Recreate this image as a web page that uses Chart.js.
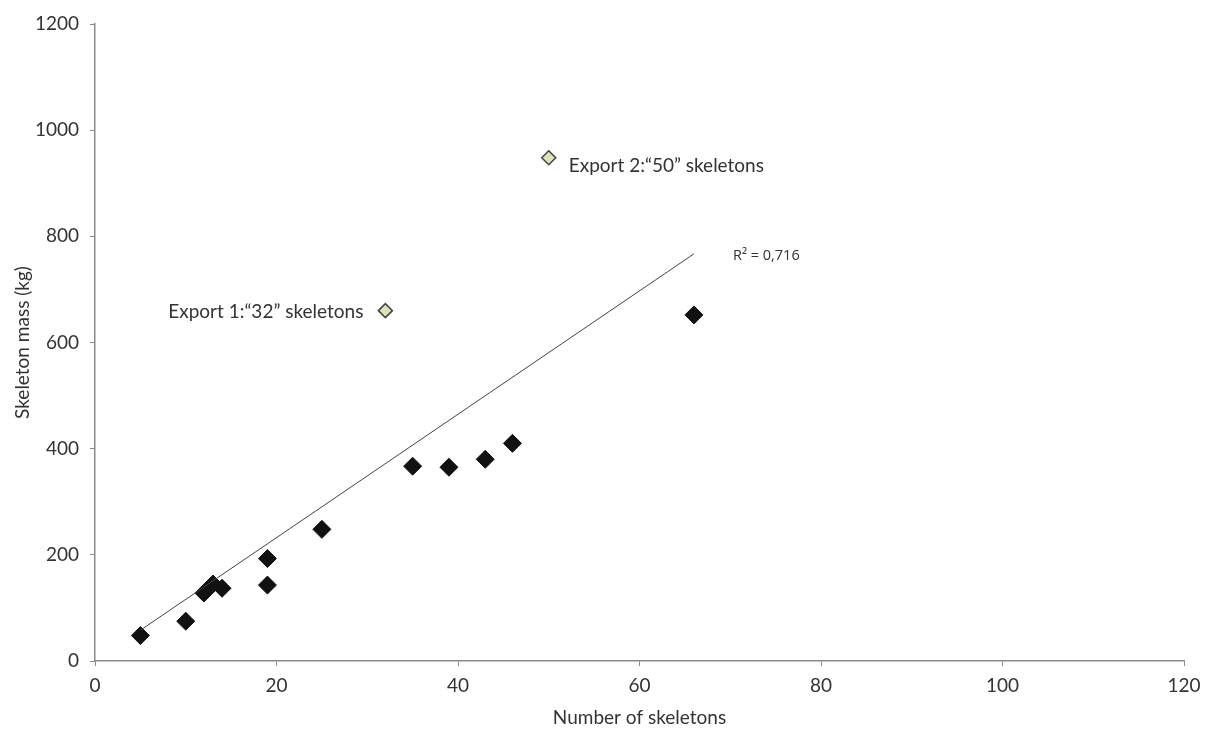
<!DOCTYPE html>
<html lang="en">

<head>
    <meta charset="UTF-8">
    <title>Skeleton mass vs number of skeletons</title>
    <script src="https://cdn.jsdelivr.net/npm/chart.js"></script>
    <style>
        body {
            margin: 0;
            background: #fff;
        }

        #wrap {
            width: 1210px;
            height: 729px;
        }
    </style>
</head>

<body>
    <div id="wrap"><canvas id="massChart"></canvas></div>

    <script>
        // data
        const skeletonCounts = [5, 10, 12, 13, 14, 19, 19, 25, 35, 39, 43, 46, 66];
        const skeletonMass = [48, 75, 128, 145, 137, 193, 143, 248, 367, 365, 380, 410, 652];
        const exportCounts = [32, 50];
        const exportMass = [660, 948];
        const exportLabels = ['Export 1:\u201c32\u201d skeletons', 'Export 2:\u201c50\u201d skeletons'];
        const trendX = [5, 66];
        const trendY = [58, 767];
        const trendLabel = 'R\u00b2 = 0,716';
        const xTicks = [0, 20, 40, 60, 80, 100, 120];
        const yTicks = [0, 200, 400, 600, 800, 1000, 1200];

        const fontFam = 'Lato, "Open Sans", sans-serif';
        const textCol = '#333';
        const axisCol = '#8a8a8a';

        // labels next to the export points and the R² text
        const notesPlugin = {
            id: 'notes',
            afterDatasetsDraw(chart) {
                const { ctx, scales: { x, y } } = chart;
                ctx.save();
                ctx.fillStyle = textCol;
                ctx.textBaseline = 'middle';
                ctx.font = '19px ' + fontFam;
                // export 1 sits left of its point
                ctx.textAlign = 'right';
                ctx.fillText(exportLabels[0], x.getPixelForValue(exportCounts[0]) - 22, y.getPixelForValue(exportMass[0]) + 1);
                // export 2 sits right of its point
                ctx.textAlign = 'left';
                ctx.fillText(exportLabels[1], x.getPixelForValue(exportCounts[1]) + 20, y.getPixelForValue(exportMass[1]) + 8);
                // R² label
                ctx.font = '14.5px "Open Sans", sans-serif';
                ctx.fillText(trendLabel, x.getPixelForValue(trendX[1]) + 39, y.getPixelForValue(trendY[1]) + 2);
                ctx.restore();
            }
        };

        const ctx = document.getElementById('massChart').getContext('2d');
        new Chart(ctx, {
            type: 'scatter',
            data: {
                datasets: [
                    {
                        label: 'trend',
                        type: 'line',
                        data: trendX.map((v, i) => ({ x: v, y: trendY[i] })),
                        borderColor: '#444',
                        borderWidth: 1,
                        pointRadius: 0,
                        fill: false
                    },
                    {
                        label: 'skeletons',
                        data: skeletonCounts.map((v, i) => ({ x: v, y: skeletonMass[i] })),
                        pointStyle: 'rectRot',
                        pointRadius: 9,
                        backgroundColor: '#111',
                        borderColor: '#111',
                        borderWidth: 1
                    },
                    {
                        label: 'exports',
                        data: exportCounts.map((v, i) => ({ x: v, y: exportMass[i] })),
                        pointStyle: 'rectRot',
                        pointRadius: 7,
                        backgroundColor: '#dde3b8',
                        borderColor: '#444',
                        borderWidth: 1.5
                    }
                ]
            },
            options: {
                responsive: true,
                maintainAspectRatio: false,
                animation: false,
                layout: { padding: { top: 24, right: 26, left: 0, bottom: 0 } },
                plugins: {
                    legend: { display: false },
                    tooltip: { enabled: false }
                },
                scales: {
                    x: {
                        type: 'linear',
                        min: 0,
                        max: 120,
                        afterBuildTicks: s => { s.ticks = xTicks.map(v => ({ value: v })); },
                        afterFit: s => { s.height = 68; },
                        grid: {
                            display: true,
                            drawOnChartArea: false,
                            drawTicks: true,
                            tickLength: 5,
                            color: axisCol
                        },
                        border: { color: axisCol, width: 1.5 },
                        ticks: {
                            color: textCol,
                            padding: 8,
                            font: { family: fontFam, size: 19 },
                            callback: v => String(v)
                        },
                        title: {
                            display: true,
                            text: 'Number of skeletons',
                            color: textCol,
                            font: { family: fontFam, size: 19 },
                            padding: { top: 0, bottom: 0 }
                        }
                    },
                    y: {
                        type: 'linear',
                        min: 0,
                        max: 1200,
                        afterBuildTicks: s => { s.ticks = yTicks.map(v => ({ value: v })); },
                        afterFit: s => { s.width = 95; },
                        grid: {
                            display: true,
                            drawOnChartArea: false,
                            drawTicks: true,
                            tickLength: 5,
                            color: axisCol
                        },
                        border: { color: axisCol, width: 1.5 },
                        ticks: {
                            color: textCol,
                            padding: 11,
                            font: { family: fontFam, size: 19 },
                            callback: v => String(v)
                        },
                        title: {
                            display: true,
                            text: 'Skeleton mass (kg)',
                            color: textCol,
                            font: { family: fontFam, size: 19 },
                            padding: { top: 11, bottom: 0 }
                        }
                    }
                }
            },
            plugins: [notesPlugin]
        });
    </script>
</body>

</html>
